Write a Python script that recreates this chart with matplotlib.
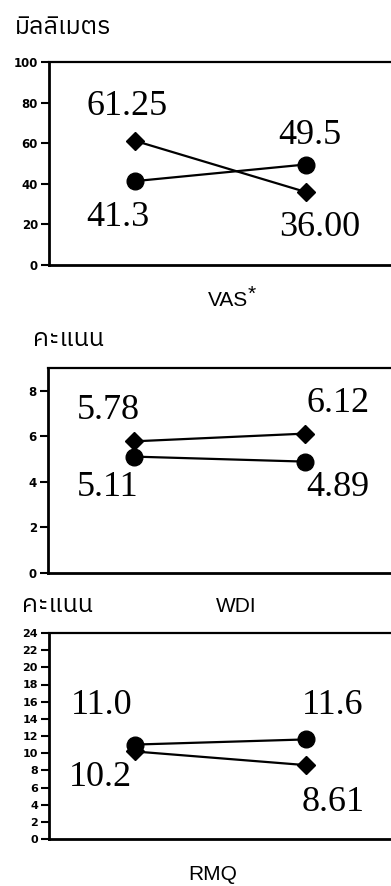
import matplotlib
matplotlib.use("Agg")
import matplotlib.pyplot as plt
from matplotlib import font_manager
from matplotlib.ft2font import FT2Font

# ---------------- data ----------------
groups = ["VAS", "WDI", "RMQ"]
group_marks = ["*", "", ""]
units = ["มิลลิเมตร", "คะแนน", "คะแนน"]
diamond_vals = [[61.25, 36.00], [5.78, 6.12], [10.2, 8.61]]
circle_vals = [[41.3, 49.5], [5.11, 4.89], [11.0, 11.6]]
diamond_labels = [["61.25", "36.00"], ["5.78", "6.12"], ["10.2", "8.61"]]
circle_labels = [["41.3", "49.5"], ["5.11", "4.89"], ["11.0", "11.6"]]
y_max = [100, 9, 24]
y_ticks = [list(range(0, 101, 20)), list(range(0, 9, 2)), list(range(0, 25, 2))]

# find a font with Thai glyphs
thai_font = None
for f in font_manager.fontManager.ttflist:
    try:
        ft = FT2Font(f.fname)
        if 0x0E21 in ft.get_charmap():
            thai_font = f.name
            if "Sans" in f.name:
                break
    except Exception:
        pass
thai_family = [thai_font, "DejaVu Sans"] if thai_font else ["DejaVu Sans"]

W, H = 391, 886
fig = plt.figure(figsize=(W / 100, H / 100), dpi=100)

def ax_rect(left, top, bottom, right=391):
    return [left / W, 1 - bottom / H, (right - left) / W, (bottom - top) / H]

rects = [ax_rect(49, 62, 265), ax_rect(48, 368, 573), ax_rect(49, 633, 839)]
xs = [1, 3]
lab_pos = [
    {"d": [(0.91, 78.3), (3.17, 18.7)], "c": [(0.81, 23.6), (3.05, 64.0)]},
    {"d": [(0.70, 7.15), (3.38, 7.46)], "c": [(0.70, 3.77), (3.38, 3.77)]},
    {"d": [(0.60, 7.2), (3.32, 4.2)], "c": [(0.62, 15.6), (3.32, 15.6)]},
]
tick_fs = [8.5, 8.5, 8]
title_pos = [(15, 27), (33, 340), (22, 605)]
xlabel_pos = [(228, 300), (236, 606), (213, 875)]

serif = ["Liberation Serif", "DejaVu Serif"]
sans = ["Liberation Sans", "DejaVu Sans"]
for i in range(3):
    ax = fig.add_axes(rects[i])
    ax.plot(xs, diamond_vals[i], color="black", lw=1.6, marker="D", ms=9,
            zorder=3, clip_on=False)
    ax.plot(xs, circle_vals[i], color="black", lw=1.6, marker="o", ms=12,
            zorder=3, clip_on=False)
    for j in range(2):
        x, y = lab_pos[i]["d"][j]
        ax.text(x, y, diamond_labels[i][j], fontsize=26, family=serif,
                ha="center", va="center")
        x, y = lab_pos[i]["c"][j]
        ax.text(x, y, circle_labels[i][j], fontsize=26, family=serif,
                ha="center", va="center")
    ax.set_xlim(0, 4)
    ax.set_ylim(0, y_max[i])
    ax.set_yticks(y_ticks[i])
    ax.set_yticklabels([str(t) for t in y_ticks[i]], fontsize=tick_fs[i],
                       fontweight="bold", family=["DejaVu Sans"])
    ax.set_xticks([])
    ax.spines["right"].set_visible(False)
    ax.spines["left"].set_linewidth(2)
    ax.spines["bottom"].set_linewidth(2)
    ax.spines["top"].set_linewidth(1.6)
    ax.tick_params(axis="y", length=6, width=1.5, pad=2)
    tx, ty = title_pos[i]
    fig.text(tx / W, 1 - ty / H, units[i], fontsize=18, family=thai_family,
             ha="left", va="center")
    lx, ly = xlabel_pos[i]
    t = fig.text(lx / W, 1 - ly / H, groups[i], fontsize=15, family=sans,
                 ha="center", va="center")
    if group_marks[i]:
        fig.canvas.draw()
        bb = t.get_window_extent()
        fig.text((bb.x1 - 1) / W, (bb.y1 - 13) / H, group_marks[i], fontsize=15,
                 family=sans, ha="left", va="bottom")

fig.savefig("out.png", dpi=100)
